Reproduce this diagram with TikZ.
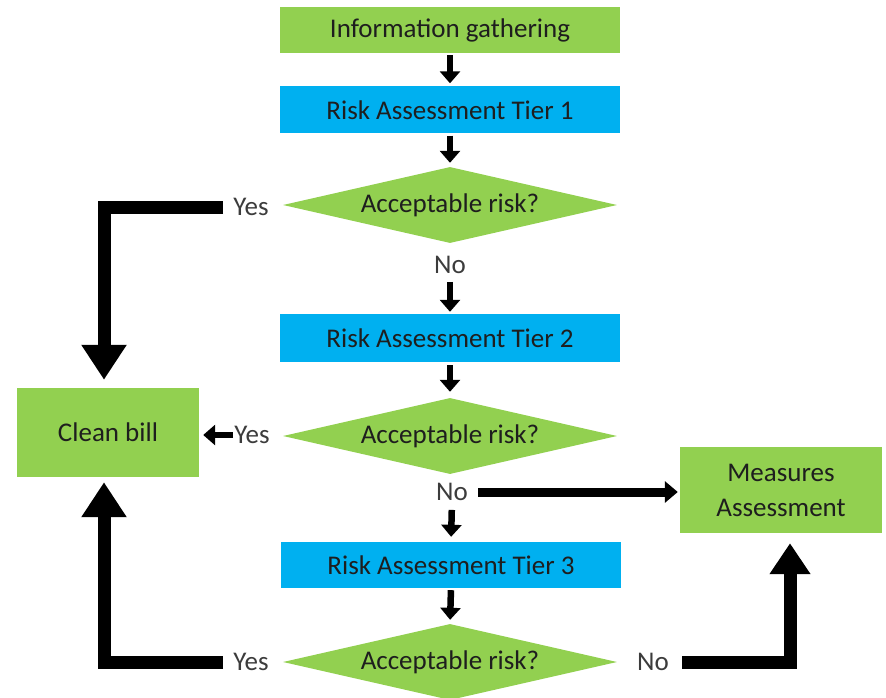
\documentclass[tikz,border=0pt]{standalone}
\usepackage{fontspec}
\setmainfont{Carlito}
\usetikzlibrary{arrows.meta,shapes.geometric}
\definecolor{boxgreen}{HTML}{92D050}
\definecolor{boxblue}{HTML}{00B0F0}
\definecolor{txtcol}{HTML}{1E1E1E}
\definecolor{lblcol}{HTML}{3C3C3C}
\begin{document}
\begin{tikzpicture}[x=1pt,y=-1pt,
  mainfont/.style={font=\fontsize{27}{35}\selectfont},
  greenbox/.style={rectangle, fill=boxgreen, text=txtcol, inner sep=0pt, mainfont, align=center},
  bluebox/.style={rectangle, fill=boxblue, text=txtcol, inner sep=0pt, mainfont, minimum width=340pt},
  decision/.style={diamond, fill=boxgreen, text=txtcol, aspect=4.4, minimum width=334pt, minimum height=76pt, inner sep=0pt, mainfont},
  lbl/.style={text=lblcol, inner sep=0pt, mainfont},
  smallarrow/.style={draw=black, line width=6.5pt, -{Triangle[width=20pt,length=12pt]}},
  midarrow/.style={draw=black, line width=9pt, -{Triangle[width=21pt,length=13pt]}},
  bigarrow/.style={draw=black, line width=13pt, line join=miter, -{Triangle[width=43pt,length=35pt]}},
  bigarrowr/.style={draw=black, line width=13pt, line join=miter, -{Triangle[width=39pt,length=31pt]}}
]
\useasboundingbox (0,0) rectangle (886,698);

% boxes
\node[greenbox, minimum width=340pt, minimum height=46pt] (info) at (450,30) {Information gathering};
\node[bluebox, minimum height=47pt] (t1) at (450,110) {Risk Assessment Tier 1};
\node[decision] (d1) at (450,205) {Acceptable risk?};
\node[bluebox, minimum height=48pt] (t2) at (450,338) {Risk Assessment Tier 2};
\node[decision] (d2) at (450,436) {Acceptable risk?};
\node[bluebox, minimum height=46pt] (t3) at (451,565) {Risk Assessment Tier 3};
\node[decision] (d3) at (450,662) {Acceptable risk?};
\node[greenbox, minimum width=182pt, minimum height=89pt] (clean) at (108,432.5) {Clean bill};
\node[greenbox, minimum width=202pt, minimum height=86pt] (measures) at (781,490) {Measures\\Assessment};

% labels
\node[lbl] (yes1) at (251,207) {Yes};
\node[lbl] (no1) at (450,265) {No};
\node[lbl] (yes2) at (252,435) {Yes};
\node[lbl] (no2) at (452,492) {No};
\node[lbl] (yes3) at (251,662) {Yes};
\node[lbl] (no3) at (653,662) {No};

% vertical small arrows
\draw[smallarrow, shorten <=2pt, shorten >=3pt] (info.south) -- (t1.north);
\draw[smallarrow, shorten <=2pt, shorten >=4pt] (t1.south) -- (d1.north);
\draw[smallarrow, shorten <=8pt, shorten >=2pt] (no1.south) -- (t2.north);
\draw[smallarrow, shorten <=3pt, shorten >=6pt] (t2.south) -- (d2.north);
\draw[smallarrow, shorten <=9pt, shorten >=5pt] (no2.south) -- (t3.north);
\draw[smallarrow, shorten <=2pt, shorten >=4pt] (t3.south) -- (d3.north);

% yes branches
\draw[bigarrow] ([xshift=-10pt]yes1.west) -| ([xshift=-4pt,yshift=8pt]clean.north);
\draw[smallarrow, shorten >=4pt] ([xshift=-1pt]yes2.west) -- (yes2.west -| clean.east);
\draw[bigarrow] ([xshift=-10pt]yes3.west) -| ([xshift=-4pt,yshift=-5pt]clean.south);

% no branches
\draw[midarrow, shorten >=2pt] ([xshift=10pt]no2.east) -- (no2.east -| measures.west);
\draw[bigarrowr] ([xshift=13pt]no3.east) -| ([xshift=9pt,yshift=-10pt]measures.south);
\end{tikzpicture}
\end{document}
